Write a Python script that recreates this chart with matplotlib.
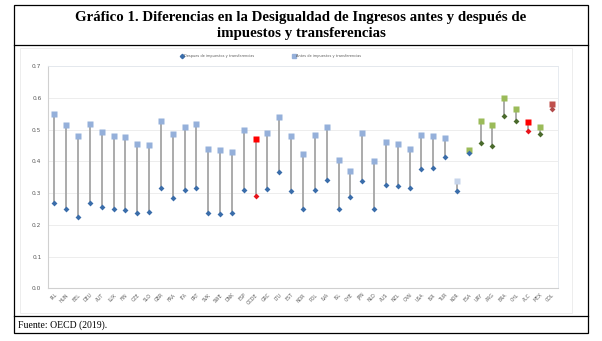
import matplotlib.pyplot as plt
from matplotlib.patches import Rectangle
from matplotlib.lines import Line2D

paises = ["IRL", "HUN", "BEL", "DEU", "AUT", "LUX", "FIN", "CZE", "SLO", "GBR",
          "FRA", "ITA", "PRT", "SVK", "SWE", "DNK", "ESP", "OCDE", "GRC", "LTU",
          "EST", "NOR", "POL", "LVA", "ISL", "CHE", "JPN", "NLD", "AUS", "NZL",
          "CAN", "USA", "ISR", "TUR", "KOR", "ESA", "URY", "ARG", "BRA", "CHL",
          "ALC", "MEX", "COL"]
antes = [0.549, 0.513, 0.481, 0.517, 0.491, 0.481, 0.477, 0.454, 0.452, 0.526,
         0.487, 0.509, 0.518, 0.439, 0.436, 0.430, 0.500, 0.470, 0.488, 0.539,
         0.480, 0.423, 0.483, 0.509, 0.405, 0.368, 0.488, 0.400, 0.460, 0.454,
         0.438, 0.484, 0.481, 0.474, 0.338, 0.436, 0.528, 0.513, 0.600, 0.564,
         0.523, 0.508, 0.579]
despues = [0.269, 0.250, 0.225, 0.268, 0.257, 0.249, 0.247, 0.237, 0.239, 0.315,
           0.283, 0.308, 0.316, 0.237, 0.235, 0.236, 0.311, 0.291, 0.314, 0.365,
           0.307, 0.250, 0.310, 0.340, 0.251, 0.288, 0.337, 0.250, 0.324, 0.322,
           0.316, 0.377, 0.378, 0.412, 0.307, 0.427, 0.457, 0.447, 0.543, 0.526,
           0.494, 0.487, 0.566]

# colores por grupo
latam = ["URY", "ARG", "BRA", "CHL", "MEX"]
promedios = ["OCDE", "ALC"]

def color_antes(p):
    if p in promedios:
        return "#FF0000"
    if p in latam or p == "ESA":
        return "#9BBB59"
    if p == "KOR":
        return "#C6D4EA"
    if p == "COL":
        return "#C0504D"
    return "#95B0DA"

def color_despues(p):
    if p in promedios:
        return "#E8141B"
    if p in latam:
        return "#4A6A2C"
    if p == "COL":
        return "#B14A4A"
    return "#3A6DAA"

fig = plt.figure(figsize=(6.02, 3.41), dpi=100)

# marcos del cuadro
fig.add_artist(Rectangle((14 / 602, 1 - 333 / 341), 574 / 602, 328 / 341,
                         transform=fig.transFigure, fill=False, lw=0.9, color="black"))
fig.add_artist(Line2D([14 / 602, 588 / 602], [1 - 45 / 341] * 2,
                      transform=fig.transFigure, lw=0.9, color="black"))
fig.add_artist(Line2D([14 / 602, 588 / 602], [1 - 316 / 341] * 2,
                      transform=fig.transFigure, lw=0.9, color="black"))
fig.add_artist(Rectangle((20 / 602, 1 - 313 / 341), 552 / 602, 265 / 341,
                         transform=fig.transFigure, fill=False, lw=0.5, color="#E6E6E6"))

fig.text(0.5, 1 - 17 / 341,
         "Gráfico 1. Diferencias en la Desigualdad de Ingresos antes y después de",
         ha="center", va="center", family="Liberation Serif", weight="bold", fontsize=10.7)
fig.text(0.5, 1 - 34 / 341, "impuestos y transferencias",
         ha="center", va="center", family="Liberation Serif", weight="bold", fontsize=10.7)
fig.text(18 / 602, 1 - 325 / 341, "Fuente: OECD (2019).",
         ha="left", va="center", family="Liberation Serif", fontsize=7)

ax = fig.add_axes([48.4 / 602, 52.7 / 341, 509.2 / 602, 222.3 / 341])
x = list(range(len(paises)))

for i, p in enumerate(paises):
    ax.plot([i, i], [despues[i], antes[i]], color="#A5A5A5", lw=1.3, zorder=2)
    ax.plot(i, antes[i], marker="s", ms=4.6, color=color_antes(p), mec="none", zorder=3)
    ax.plot(i, despues[i], marker="D", ms=3.0, color=color_despues(p), mec="none", zorder=4)

ax.set_xlim(-0.5, len(paises) - 0.5)
ax.set_ylim(0, 0.7)
ax.set_yticks([0.0, 0.1, 0.2, 0.3, 0.4, 0.5, 0.6, 0.7])
ax.set_yticklabels(["0.0", "0.1", "0.2", "0.3", "0.4", "0.5", "0.6", "0.7"])
ax.set_xticks(x)
ax.set_xticklabels(paises, rotation=45, ha="right", rotation_mode="anchor")
ax.tick_params(axis="y", labelsize=4.2, labelcolor="#595959", length=0, pad=5)
ax.tick_params(axis="x", labelsize=3.3, labelcolor="#595959", length=0, pad=3)
ax.grid(axis="y", color="#EAEAEA", lw=0.6)
ax.set_axisbelow(True)
for s in ["top", "right"]:
    ax.spines[s].set_color("#E3E8EE")
    ax.spines[s].set_linewidth(0.6)
for s in ["left", "bottom"]:
    ax.spines[s].set_color("#D0D0D0")
    ax.spines[s].set_linewidth(0.8)

handles = [Line2D([], [], marker="D", ms=2.2, ls="none", color="#3A6DAA",
                  label="Despues de impuestos y transferencias"),
           Line2D([], [], marker="s", ms=2.8, ls="none", color="#95B0DA",
                  label="Antes de impuestos y transferencias")]
fig.legend(handles=handles, loc="center", bbox_to_anchor=(271 / 602, 1 - 56 / 341),
           ncol=2, frameon=False, fontsize=2.5, handletextpad=0.1,
           columnspacing=11, handlelength=0.8, labelcolor="#595959")

fig.savefig("out.png", dpi=100)
